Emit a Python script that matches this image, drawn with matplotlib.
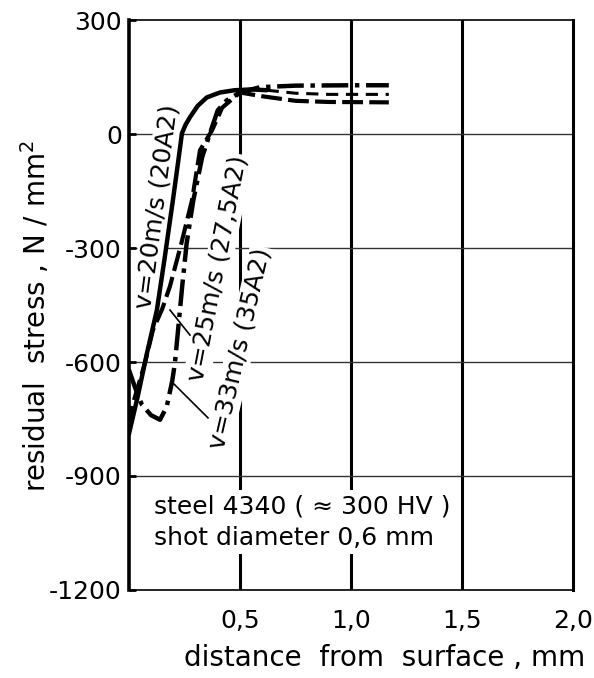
import matplotlib
matplotlib.use("Agg")
import matplotlib.pyplot as plt
import numpy as np

# ---- data ----
x_20 = [0.0, 0.04, 0.08, 0.126, 0.16, 0.198, 0.22, 0.239, 0.255, 0.275, 0.31, 0.351, 0.41, 0.477, 0.55, 0.62]
y_20 = [-790, -690, -580, -463, -330, -174, -80, 3, 25, 45, 75, 97, 110, 116, 118, 116]
x_20_tail = [0.62, 0.75, 0.9, 1.17]
y_20_tail = [116, 108, 105, 105]

x_25 = [0.0, 0.014, 0.072, 0.108, 0.15, 0.185, 0.235, 0.284, 0.32, 0.374, 0.42, 0.5, 0.6, 0.75, 0.9, 1.17]
y_25 = [-770, -718, -603, -516, -460, -400, -290, -174, -42, 10, 70, 110, 100, 88, 85, 84]

x_33 = [0.0, 0.027, 0.059, 0.1, 0.14, 0.17, 0.195, 0.207, 0.22, 0.24, 0.26, 0.29, 0.33, 0.365, 0.40, 0.44, 0.5, 0.59, 0.75, 1.0, 1.17]
y_33 = [-620, -666, -713, -740, -752, -718, -650, -603, -524, -400, -287, -174, -60, 3, 63, 89, 110, 124, 128, 129, 129]

x_ticks = [0.5, 1.0, 1.5, 2.0]
x_ticklabels = ["0,5", "1,0", "1,5", "2,0"]
y_ticks = [300, 0, -300, -600, -900, -1200]
y_ticklabels = ["300", "0", "-300", "-600", "-900", "-1200"]

labels = ["v=20m/s (20A2)", "v=25m/s (27,5A2)", "v=33m/s (35A2)"]

plt.rcParams['font.family'] = ['DejaVu Sans']

fig = plt.figure(figsize=(5.94, 6.78), dpi=100)
ax = fig.add_axes([0.217, 0.130, 0.748, 0.840])
ax.set_xlim(0, 2.0)
ax.set_ylim(-1200, 300)

# grid
for xv in [0.5, 1.0, 1.5]:
    ax.axvline(xv, color='black', lw=2.2, zorder=0.5)
for yv in [0, -300, -600, -900]:
    ax.axhline(yv, color='#333333', lw=1.0, zorder=0.5)

# curves
ax.plot(x_20, y_20, color='black', lw=3.2, solid_capstyle='round', zorder=3)
ax.plot(x_20_tail, y_20_tail, color='black', lw=2.2, dashes=(4, 2.5), zorder=3)
ax.plot(x_25, y_25, color='black', lw=3.0, dashes=(5, 1.5), zorder=3)
ax.plot(x_33, y_33, color='black', lw=3.2, dashes=(6, 1.5, 1, 1.5), zorder=3)

# curve labels
txt_kw = dict(ha='center', va='center', fontsize=18, rotation_mode='anchor', zorder=2,
              bbox=dict(facecolor='white', edgecolor='none', pad=1.0))
ax.text(0.125, -190, labels[0], rotation=82.5, **txt_kw)
ax.text(0.40, -353, labels[1], rotation=79, **txt_kw)
ax.text(0.50, -565, labels[2], rotation=77, **txt_kw)

# leader lines
ax.plot([0.185, 0.275], [-463, -529], color='black', lw=1.2, zorder=3)
ax.plot([0.198, 0.356], [-655, -747], color='black', lw=1.2, zorder=3)

# info box
ax.text(0.115, -1022, "steel 4340 ( \u2248 300 HV )\nshot diameter 0,6 mm", ha='left', va='center',
        fontsize=18, linespacing=1.4, zorder=2,
        bbox=dict(facecolor='white', edgecolor='none', pad=3))

# spines
ax.spines['left'].set_linewidth(2.6)
for s in ['top', 'bottom']:
    ax.spines[s].set_linewidth(1.2)
ax.spines['right'].set_linewidth(2.2)

ax.set_xticks(x_ticks)
ax.set_xticklabels(x_ticklabels)
ax.set_yticks(y_ticks)
ax.set_yticklabels(y_ticklabels)
ax.tick_params(axis='x', length=0, pad=14, labelsize=18)
ax.tick_params(axis='y', direction='in', length=5, width=2, pad=5, labelsize=18)

ax.set_xlabel("distance  from  surface , mm", fontsize=20)
ax.xaxis.set_label_coords(0.575, -0.095)
ax.set_ylabel("residual  stress , N / mm$^2$", fontsize=20)
ax.yaxis.set_label_coords(-0.172, 0.48)

fig.savefig("out.png", dpi=100)
